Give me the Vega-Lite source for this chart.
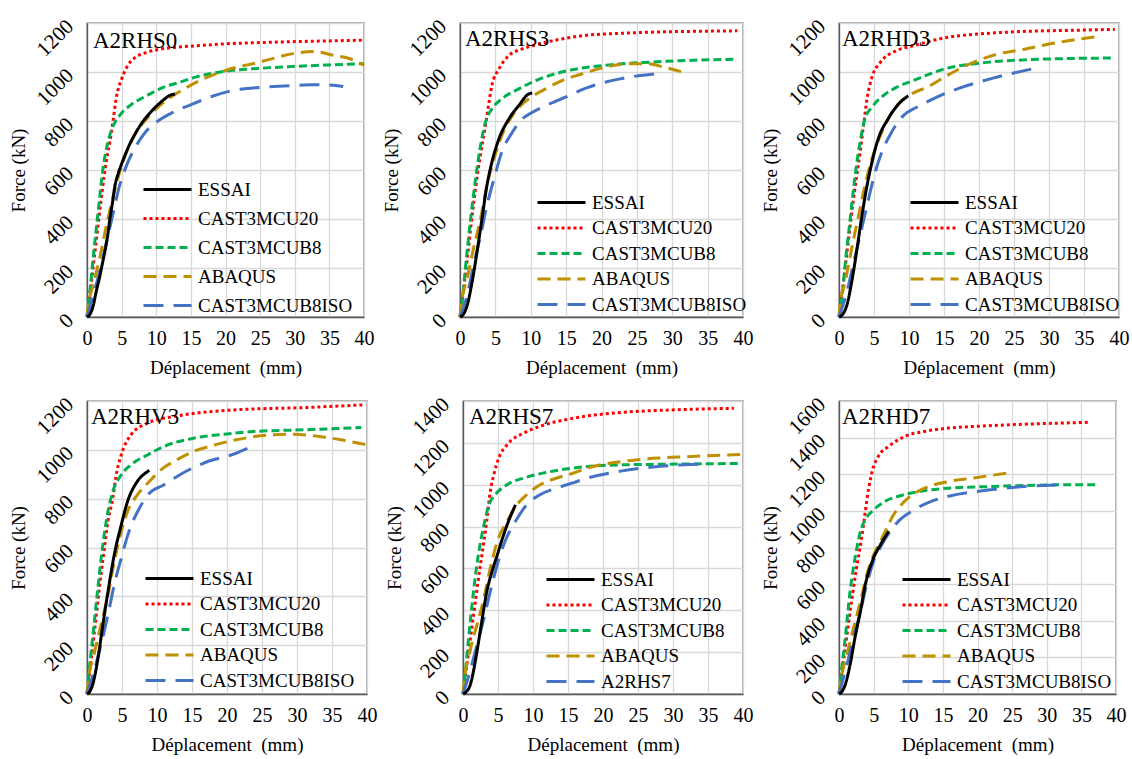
{
"$schema": "https://vega.github.io/schema/vega-lite/v6.json",
"autosize": {"type": "pad"},
"padding": {"left": 8, "top": 14, "right": 5, "bottom": 5},
"background": "white",
"config": {
 "font": "Liberation Serif",
 "view": {"stroke": "#595959", "strokeWidth": 1.3},
 "axis": {"labelFont": "Liberation Serif", "labelFontSize": 20, "labelColor": "#000000", "titleFont": "Liberation Serif", "titleFontSize": 19, "titleFontWeight": "normal", "titleColor": "#000000", "gridColor": "#d9d9d9", "gridWidth": 1.3, "domainColor": "#595959", "domainWidth": 1.3, "tickSize": 0, "labelFlush": false, "labelOverlap": false, "format": "d"},
 "axisX": {"labelPadding": 11, "titlePadding": 10},
 "axisY": {"labelAngle": -45, "labelAlign": "right", "labelBaseline": "middle", "labelPadding": 17, "labelFontSize": 21, "titlePadding": 4},
 "legend": {"orient": "none", "labelFont": "Liberation Serif", "labelFontSize": 19, "labelColor": "#000000", "symbolType": "M-4,0H4", "symbolSize": 144, "symbolStrokeWidth": 3, "symbolOffset": 16, "labelOffset": 21, "rowPadding": 5.5, "padding": 0},
 "title": {"font": "Liberation Serif", "fontSize": 23, "fontWeight": "normal", "color": "#000000", "anchor": "start", "frame": "group", "offset": 0, "baseline": "alphabetic"},
 "line": {"strokeWidth": 3, "interpolate": "monotone"}
},
"data": {"values": [
{"p":"A2RHS0","s":"CAST3MCU20","d":0,"F":0},{"p":"A2RHS0","s":"CAST3MCU20","d":0.5,"F":110},{"p":"A2RHS0","s":"CAST3MCU20","d":1,"F":230},{"p":"A2RHS0","s":"CAST3MCU20","d":1.5,"F":350},{"p":"A2RHS0","s":"CAST3MCU20","d":2,"F":470},{"p":"A2RHS0","s":"CAST3MCU20","d":2.5,"F":580},{"p":"A2RHS0","s":"CAST3MCU20","d":3,"F":670},{"p":"A2RHS0","s":"CAST3MCU20","d":3.3,"F":713},{"p":"A2RHS0","s":"CAST3MCU20","d":3.8,"F":808},{"p":"A2RHS0","s":"CAST3MCU20","d":4.2,"F":890},{"p":"A2RHS0","s":"CAST3MCU20","d":5,"F":971},{"p":"A2RHS0","s":"CAST3MCU20","d":6.2,"F":1039},{"p":"A2RHS0","s":"CAST3MCU20","d":7,"F":1060},{"p":"A2RHS0","s":"CAST3MCU20","d":8.6,"F":1080},{"p":"A2RHS0","s":"CAST3MCU20","d":10,"F":1090},{"p":"A2RHS0","s":"CAST3MCU20","d":12.4,"F":1100},{"p":"A2RHS0","s":"CAST3MCU20","d":15.8,"F":1107},{"p":"A2RHS0","s":"CAST3MCU20","d":20,"F":1115},{"p":"A2RHS0","s":"CAST3MCU20","d":25,"F":1120},{"p":"A2RHS0","s":"CAST3MCU20","d":30,"F":1124},{"p":"A2RHS0","s":"CAST3MCU20","d":35,"F":1127},{"p":"A2RHS0","s":"CAST3MCU20","d":40,"F":1130},
{"p":"A2RHS0","s":"CAST3MCUB8","d":0,"F":0},{"p":"A2RHS0","s":"CAST3MCUB8","d":0.4,"F":100},{"p":"A2RHS0","s":"CAST3MCUB8","d":0.87,"F":237},{"p":"A2RHS0","s":"CAST3MCUB8","d":1.6,"F":427},{"p":"A2RHS0","s":"CAST3MCUB8","d":2.3,"F":604},{"p":"A2RHS0","s":"CAST3MCUB8","d":3,"F":713},{"p":"A2RHS0","s":"CAST3MCUB8","d":3.8,"F":781},{"p":"A2RHS0","s":"CAST3MCUB8","d":4.7,"F":822},{"p":"A2RHS0","s":"CAST3MCUB8","d":6.2,"F":863},{"p":"A2RHS0","s":"CAST3MCUB8","d":8.6,"F":903},{"p":"A2RHS0","s":"CAST3MCUB8","d":11,"F":937},{"p":"A2RHS0","s":"CAST3MCUB8","d":13.4,"F":958},{"p":"A2RHS0","s":"CAST3MCUB8","d":15.8,"F":980},{"p":"A2RHS0","s":"CAST3MCUB8","d":20,"F":1003},{"p":"A2RHS0","s":"CAST3MCUB8","d":25,"F":1015},{"p":"A2RHS0","s":"CAST3MCUB8","d":30,"F":1023},{"p":"A2RHS0","s":"CAST3MCUB8","d":35,"F":1029},{"p":"A2RHS0","s":"CAST3MCUB8","d":40,"F":1034},
{"p":"A2RHS0","s":"ABAQUS","d":0,"F":0},{"p":"A2RHS0","s":"ABAQUS","d":0.15,"F":40},{"p":"A2RHS0","s":"ABAQUS","d":0.87,"F":128},{"p":"A2RHS0","s":"ABAQUS","d":1.8,"F":237},{"p":"A2RHS0","s":"ABAQUS","d":2.8,"F":373},{"p":"A2RHS0","s":"ABAQUS","d":3.8,"F":495},{"p":"A2RHS0","s":"ABAQUS","d":4.7,"F":590},{"p":"A2RHS0","s":"ABAQUS","d":5.7,"F":672},{"p":"A2RHS0","s":"ABAQUS","d":7.1,"F":754},{"p":"A2RHS0","s":"ABAQUS","d":8.6,"F":808},{"p":"A2RHS0","s":"ABAQUS","d":10.5,"F":863},{"p":"A2RHS0","s":"ABAQUS","d":12.4,"F":903},{"p":"A2RHS0","s":"ABAQUS","d":14.4,"F":937},{"p":"A2RHS0","s":"ABAQUS","d":16.3,"F":965},{"p":"A2RHS0","s":"ABAQUS","d":20.1,"F":1007},{"p":"A2RHS0","s":"ABAQUS","d":25,"F":1041},{"p":"A2RHS0","s":"ABAQUS","d":29.8,"F":1075},{"p":"A2RHS0","s":"ABAQUS","d":32.7,"F":1084},{"p":"A2RHS0","s":"ABAQUS","d":35.6,"F":1068},{"p":"A2RHS0","s":"ABAQUS","d":38,"F":1054},{"p":"A2RHS0","s":"ABAQUS","d":40,"F":1027},
{"p":"A2RHS0","s":"CAST3MCUB8ISO","d":0,"F":0},{"p":"A2RHS0","s":"CAST3MCUB8ISO","d":0.87,"F":87},{"p":"A2RHS0","s":"CAST3MCUB8ISO","d":1.8,"F":182},{"p":"A2RHS0","s":"CAST3MCUB8ISO","d":2.8,"F":305},{"p":"A2RHS0","s":"CAST3MCUB8ISO","d":3.8,"F":427},{"p":"A2RHS0","s":"CAST3MCUB8ISO","d":4.7,"F":536},{"p":"A2RHS0","s":"CAST3MCUB8ISO","d":5.7,"F":618},{"p":"A2RHS0","s":"CAST3MCUB8ISO","d":7.1,"F":699},{"p":"A2RHS0","s":"CAST3MCUB8ISO","d":8.6,"F":760},{"p":"A2RHS0","s":"CAST3MCUB8ISO","d":10.5,"F":805},{"p":"A2RHS0","s":"CAST3MCUB8ISO","d":12.4,"F":835},{"p":"A2RHS0","s":"CAST3MCUB8ISO","d":15.3,"F":870},{"p":"A2RHS0","s":"CAST3MCUB8ISO","d":18,"F":900},{"p":"A2RHS0","s":"CAST3MCUB8ISO","d":21.1,"F":925},{"p":"A2RHS0","s":"CAST3MCUB8ISO","d":25.9,"F":939},{"p":"A2RHS0","s":"CAST3MCUB8ISO","d":30.7,"F":946},{"p":"A2RHS0","s":"CAST3MCUB8ISO","d":32.7,"F":948},{"p":"A2RHS0","s":"CAST3MCUB8ISO","d":35.6,"F":946},{"p":"A2RHS0","s":"CAST3MCUB8ISO","d":37,"F":941},
{"p":"A2RHS0","s":"ESSAI","d":0,"F":0},{"p":"A2RHS0","s":"ESSAI","d":0.5,"F":15},{"p":"A2RHS0","s":"ESSAI","d":0.9,"F":46},{"p":"A2RHS0","s":"ESSAI","d":1.3,"F":100},{"p":"A2RHS0","s":"ESSAI","d":1.8,"F":160},{"p":"A2RHS0","s":"ESSAI","d":2.2,"F":215},{"p":"A2RHS0","s":"ESSAI","d":2.6,"F":270},{"p":"A2RHS0","s":"ESSAI","d":3,"F":335},{"p":"A2RHS0","s":"ESSAI","d":3.3,"F":400},{"p":"A2RHS0","s":"ESSAI","d":3.7,"F":470},{"p":"A2RHS0","s":"ESSAI","d":4,"F":530},{"p":"A2RHS0","s":"ESSAI","d":4.5,"F":585},{"p":"A2RHS0","s":"ESSAI","d":5,"F":625},{"p":"A2RHS0","s":"ESSAI","d":6,"F":695},{"p":"A2RHS0","s":"ESSAI","d":7,"F":750},{"p":"A2RHS0","s":"ESSAI","d":8,"F":795},{"p":"A2RHS0","s":"ESSAI","d":9,"F":830},{"p":"A2RHS0","s":"ESSAI","d":10,"F":860},{"p":"A2RHS0","s":"ESSAI","d":11,"F":885},{"p":"A2RHS0","s":"ESSAI","d":12,"F":905},{"p":"A2RHS0","s":"ESSAI","d":12.7,"F":910},

{"p":"A2RHS3","s":"CAST3MCU20","d":0,"F":0},{"p":"A2RHS3","s":"CAST3MCU20","d":0.5,"F":110},{"p":"A2RHS3","s":"CAST3MCU20","d":1,"F":230},{"p":"A2RHS3","s":"CAST3MCU20","d":1.5,"F":360},{"p":"A2RHS3","s":"CAST3MCU20","d":2,"F":480},{"p":"A2RHS3","s":"CAST3MCU20","d":2.5,"F":590},{"p":"A2RHS3","s":"CAST3MCU20","d":3,"F":680},{"p":"A2RHS3","s":"CAST3MCU20","d":3.6,"F":781},{"p":"A2RHS3","s":"CAST3MCU20","d":4.1,"F":876},{"p":"A2RHS3","s":"CAST3MCU20","d":4.5,"F":944},{"p":"A2RHS3","s":"CAST3MCU20","d":5.5,"F":1012},{"p":"A2RHS3","s":"CAST3MCU20","d":6.9,"F":1067},{"p":"A2RHS3","s":"CAST3MCU20","d":8.8,"F":1094},{"p":"A2RHS3","s":"CAST3MCU20","d":11.1,"F":1114},{"p":"A2RHS3","s":"CAST3MCU20","d":14.4,"F":1135},{"p":"A2RHS3","s":"CAST3MCU20","d":17.9,"F":1150},{"p":"A2RHS3","s":"CAST3MCU20","d":22,"F":1157},{"p":"A2RHS3","s":"CAST3MCU20","d":27.4,"F":1163},{"p":"A2RHS3","s":"CAST3MCU20","d":33,"F":1166},{"p":"A2RHS3","s":"CAST3MCU20","d":39.2,"F":1168},
{"p":"A2RHS3","s":"CAST3MCUB8","d":0,"F":0},{"p":"A2RHS3","s":"CAST3MCUB8","d":0.3,"F":60},{"p":"A2RHS3","s":"CAST3MCUB8","d":0.75,"F":196},{"p":"A2RHS3","s":"CAST3MCUB8","d":1.5,"F":400},{"p":"A2RHS3","s":"CAST3MCUB8","d":2.2,"F":563},{"p":"A2RHS3","s":"CAST3MCUB8","d":2.9,"F":699},{"p":"A2RHS3","s":"CAST3MCUB8","d":3.6,"F":795},{"p":"A2RHS3","s":"CAST3MCUB8","d":4.5,"F":849},{"p":"A2RHS3","s":"CAST3MCUB8","d":5.9,"F":890},{"p":"A2RHS3","s":"CAST3MCUB8","d":8.3,"F":931},{"p":"A2RHS3","s":"CAST3MCUB8","d":10.7,"F":965},{"p":"A2RHS3","s":"CAST3MCUB8","d":14.4,"F":1000},{"p":"A2RHS3","s":"CAST3MCUB8","d":20.3,"F":1027},{"p":"A2RHS3","s":"CAST3MCUB8","d":27.4,"F":1041},{"p":"A2RHS3","s":"CAST3MCUB8","d":33,"F":1048},{"p":"A2RHS3","s":"CAST3MCUB8","d":38.7,"F":1052},
{"p":"A2RHS3","s":"ABAQUS","d":0,"F":0},{"p":"A2RHS3","s":"ABAQUS","d":0.14,"F":46},{"p":"A2RHS3","s":"ABAQUS","d":1,"F":155},{"p":"A2RHS3","s":"ABAQUS","d":1.9,"F":278},{"p":"A2RHS3","s":"ABAQUS","d":2.9,"F":400},{"p":"A2RHS3","s":"ABAQUS","d":3.8,"F":536},{"p":"A2RHS3","s":"ABAQUS","d":4.8,"F":645},{"p":"A2RHS3","s":"ABAQUS","d":5.9,"F":740},{"p":"A2RHS3","s":"ABAQUS","d":7.4,"F":822},{"p":"A2RHS3","s":"ABAQUS","d":8.8,"F":869},{"p":"A2RHS3","s":"ABAQUS","d":10.2,"F":900},{"p":"A2RHS3","s":"ABAQUS","d":12.1,"F":931},{"p":"A2RHS3","s":"ABAQUS","d":14.4,"F":965},{"p":"A2RHS3","s":"ABAQUS","d":17,"F":990},{"p":"A2RHS3","s":"ABAQUS","d":20.3,"F":1018},{"p":"A2RHS3","s":"ABAQUS","d":24,"F":1034},{"p":"A2RHS3","s":"ABAQUS","d":26.4,"F":1034},{"p":"A2RHS3","s":"ABAQUS","d":28.8,"F":1020},{"p":"A2RHS3","s":"ABAQUS","d":31.8,"F":997},
{"p":"A2RHS3","s":"CAST3MCUB8ISO","d":0,"F":0},{"p":"A2RHS3","s":"CAST3MCUB8ISO","d":1,"F":87},{"p":"A2RHS3","s":"CAST3MCUB8ISO","d":1.9,"F":210},{"p":"A2RHS3","s":"CAST3MCUB8ISO","d":2.9,"F":332},{"p":"A2RHS3","s":"CAST3MCUB8ISO","d":3.8,"F":454},{"p":"A2RHS3","s":"CAST3MCUB8ISO","d":4.8,"F":563},{"p":"A2RHS3","s":"CAST3MCUB8ISO","d":5.9,"F":672},{"p":"A2RHS3","s":"CAST3MCUB8ISO","d":7.4,"F":754},{"p":"A2RHS3","s":"CAST3MCUB8ISO","d":8.8,"F":808},{"p":"A2RHS3","s":"CAST3MCUB8ISO","d":10.2,"F":835},{"p":"A2RHS3","s":"CAST3MCUB8ISO","d":12.6,"F":869},{"p":"A2RHS3","s":"CAST3MCUB8ISO","d":14.9,"F":897},{"p":"A2RHS3","s":"CAST3MCUB8ISO","d":17.9,"F":935},{"p":"A2RHS3","s":"CAST3MCUB8ISO","d":22.6,"F":972},{"p":"A2RHS3","s":"CAST3MCUB8ISO","d":27.8,"F":993},
{"p":"A2RHS3","s":"ESSAI","d":0,"F":0},{"p":"A2RHS3","s":"ESSAI","d":0.5,"F":12},{"p":"A2RHS3","s":"ESSAI","d":1,"F":46},{"p":"A2RHS3","s":"ESSAI","d":1.7,"F":141},{"p":"A2RHS3","s":"ESSAI","d":2.4,"F":264},{"p":"A2RHS3","s":"ESSAI","d":3.1,"F":400},{"p":"A2RHS3","s":"ESSAI","d":3.8,"F":536},{"p":"A2RHS3","s":"ESSAI","d":4.5,"F":631},{"p":"A2RHS3","s":"ESSAI","d":5.5,"F":727},{"p":"A2RHS3","s":"ESSAI","d":6.9,"F":808},{"p":"A2RHS3","s":"ESSAI","d":8.3,"F":863},{"p":"A2RHS3","s":"ESSAI","d":9.7,"F":910},{"p":"A2RHS3","s":"ESSAI","d":10.2,"F":914},

{"p":"A2RHD3","s":"CAST3MCU20","d":0,"F":0},{"p":"A2RHD3","s":"CAST3MCU20","d":0.5,"F":110},{"p":"A2RHD3","s":"CAST3MCU20","d":1,"F":230},{"p":"A2RHD3","s":"CAST3MCU20","d":1.5,"F":350},{"p":"A2RHD3","s":"CAST3MCU20","d":2,"F":465},{"p":"A2RHD3","s":"CAST3MCU20","d":2.5,"F":570},{"p":"A2RHD3","s":"CAST3MCU20","d":3,"F":670},{"p":"A2RHD3","s":"CAST3MCU20","d":3.5,"F":781},{"p":"A2RHD3","s":"CAST3MCU20","d":4,"F":890},{"p":"A2RHD3","s":"CAST3MCU20","d":4.7,"F":978},{"p":"A2RHD3","s":"CAST3MCU20","d":5.9,"F":1039},{"p":"A2RHD3","s":"CAST3MCU20","d":8.2,"F":1087},{"p":"A2RHD3","s":"CAST3MCU20","d":10.6,"F":1107},{"p":"A2RHD3","s":"CAST3MCU20","d":15.4,"F":1141},{"p":"A2RHD3","s":"CAST3MCU20","d":20,"F":1155},{"p":"A2RHD3","s":"CAST3MCU20","d":26.8,"F":1166},{"p":"A2RHD3","s":"CAST3MCU20","d":33,"F":1170},{"p":"A2RHD3","s":"CAST3MCU20","d":39.4,"F":1174},
{"p":"A2RHD3","s":"CAST3MCUB8","d":0,"F":0},{"p":"A2RHD3","s":"CAST3MCUB8","d":0.4,"F":73},{"p":"A2RHD3","s":"CAST3MCUB8","d":0.86,"F":210},{"p":"A2RHD3","s":"CAST3MCUB8","d":1.6,"F":400},{"p":"A2RHD3","s":"CAST3MCUB8","d":2.3,"F":577},{"p":"A2RHD3","s":"CAST3MCUB8","d":3,"F":713},{"p":"A2RHD3","s":"CAST3MCUB8","d":3.7,"F":808},{"p":"A2RHD3","s":"CAST3MCUB8","d":4.7,"F":856},{"p":"A2RHD3","s":"CAST3MCUB8","d":6.3,"F":903},{"p":"A2RHD3","s":"CAST3MCUB8","d":8.2,"F":937},{"p":"A2RHD3","s":"CAST3MCUB8","d":10.6,"F":965},{"p":"A2RHD3","s":"CAST3MCUB8","d":15.4,"F":1015},{"p":"A2RHD3","s":"CAST3MCUB8","d":19.7,"F":1035},{"p":"A2RHD3","s":"CAST3MCUB8","d":26.8,"F":1050},{"p":"A2RHD3","s":"CAST3MCUB8","d":33,"F":1055},{"p":"A2RHD3","s":"CAST3MCUB8","d":39,"F":1057},
{"p":"A2RHD3","s":"ABAQUS","d":0,"F":0},{"p":"A2RHD3","s":"ABAQUS","d":0.1,"F":40},{"p":"A2RHD3","s":"ABAQUS","d":0.86,"F":141},{"p":"A2RHD3","s":"ABAQUS","d":1.8,"F":278},{"p":"A2RHD3","s":"ABAQUS","d":2.8,"F":414},{"p":"A2RHD3","s":"ABAQUS","d":3.7,"F":536},{"p":"A2RHD3","s":"ABAQUS","d":4.7,"F":645},{"p":"A2RHD3","s":"ABAQUS","d":5.9,"F":740},{"p":"A2RHD3","s":"ABAQUS","d":7.3,"F":822},{"p":"A2RHD3","s":"ABAQUS","d":8.7,"F":876},{"p":"A2RHD3","s":"ABAQUS","d":10.1,"F":906},{"p":"A2RHD3","s":"ABAQUS","d":13,"F":944},{"p":"A2RHD3","s":"ABAQUS","d":15.4,"F":985},{"p":"A2RHD3","s":"ABAQUS","d":17.3,"F":1014},{"p":"A2RHD3","s":"ABAQUS","d":22,"F":1068},{"p":"A2RHD3","s":"ABAQUS","d":26.8,"F":1095},{"p":"A2RHD3","s":"ABAQUS","d":31.6,"F":1122},{"p":"A2RHD3","s":"ABAQUS","d":36.6,"F":1143},
{"p":"A2RHD3","s":"CAST3MCUB8ISO","d":0,"F":0},{"p":"A2RHD3","s":"CAST3MCUB8ISO","d":1.1,"F":100},{"p":"A2RHD3","s":"CAST3MCUB8ISO","d":2,"F":210},{"p":"A2RHD3","s":"CAST3MCUB8ISO","d":3,"F":332},{"p":"A2RHD3","s":"CAST3MCUB8ISO","d":4,"F":454},{"p":"A2RHD3","s":"CAST3MCUB8ISO","d":4.9,"F":563},{"p":"A2RHD3","s":"CAST3MCUB8ISO","d":6.1,"F":672},{"p":"A2RHD3","s":"CAST3MCUB8ISO","d":7.5,"F":754},{"p":"A2RHD3","s":"CAST3MCUB8ISO","d":9.2,"F":822},{"p":"A2RHD3","s":"CAST3MCUB8ISO","d":11.1,"F":856},{"p":"A2RHD3","s":"CAST3MCUB8ISO","d":13,"F":884},{"p":"A2RHD3","s":"CAST3MCUB8ISO","d":15.4,"F":915},{"p":"A2RHD3","s":"CAST3MCUB8ISO","d":17.3,"F":935},{"p":"A2RHD3","s":"CAST3MCUB8ISO","d":22,"F":975},{"p":"A2RHD3","s":"CAST3MCUB8ISO","d":27.5,"F":1012},
{"p":"A2RHD3","s":"ESSAI","d":0,"F":0},{"p":"A2RHD3","s":"ESSAI","d":0.5,"F":10},{"p":"A2RHD3","s":"ESSAI","d":1.1,"F":46},{"p":"A2RHD3","s":"ESSAI","d":1.8,"F":141},{"p":"A2RHD3","s":"ESSAI","d":2.5,"F":264},{"p":"A2RHD3","s":"ESSAI","d":3.2,"F":400},{"p":"A2RHD3","s":"ESSAI","d":4,"F":536},{"p":"A2RHD3","s":"ESSAI","d":4.7,"F":631},{"p":"A2RHD3","s":"ESSAI","d":5.6,"F":727},{"p":"A2RHD3","s":"ESSAI","d":7,"F":808},{"p":"A2RHD3","s":"ESSAI","d":8.5,"F":869},{"p":"A2RHD3","s":"ESSAI","d":9.9,"F":903},

{"p":"A2RHV3","s":"CAST3MCU20","d":0,"F":0},{"p":"A2RHV3","s":"CAST3MCU20","d":0.5,"F":120},{"p":"A2RHV3","s":"CAST3MCU20","d":1,"F":240},{"p":"A2RHV3","s":"CAST3MCU20","d":1.5,"F":365},{"p":"A2RHV3","s":"CAST3MCU20","d":2,"F":490},{"p":"A2RHV3","s":"CAST3MCU20","d":2.5,"F":600},{"p":"A2RHV3","s":"CAST3MCU20","d":3,"F":710},{"p":"A2RHV3","s":"CAST3MCU20","d":3.7,"F":803},{"p":"A2RHV3","s":"CAST3MCU20","d":4.1,"F":885},{"p":"A2RHV3","s":"CAST3MCU20","d":4.9,"F":980},{"p":"A2RHV3","s":"CAST3MCU20","d":6.3,"F":1062},{"p":"A2RHV3","s":"CAST3MCU20","d":8.7,"F":1110},{"p":"A2RHV3","s":"CAST3MCU20","d":12.5,"F":1137},{"p":"A2RHV3","s":"CAST3MCU20","d":15.8,"F":1151},{"p":"A2RHV3","s":"CAST3MCU20","d":21.3,"F":1164},{"p":"A2RHV3","s":"CAST3MCU20","d":30.9,"F":1173},{"p":"A2RHV3","s":"CAST3MCU20","d":39.4,"F":1184},
{"p":"A2RHV3","s":"CAST3MCUB8","d":0,"F":0},{"p":"A2RHV3","s":"CAST3MCUB8","d":0.3,"F":93},{"p":"A2RHV3","s":"CAST3MCUB8","d":0.8,"F":229},{"p":"A2RHV3","s":"CAST3MCUB8","d":1.5,"F":420},{"p":"A2RHV3","s":"CAST3MCUB8","d":2.2,"F":598},{"p":"A2RHV3","s":"CAST3MCUB8","d":3,"F":748},{"p":"A2RHV3","s":"CAST3MCUB8","d":3.7,"F":830},{"p":"A2RHV3","s":"CAST3MCUB8","d":4.9,"F":898},{"p":"A2RHV3","s":"CAST3MCUB8","d":6.3,"F":939},{"p":"A2RHV3","s":"CAST3MCUB8","d":8.7,"F":980},{"p":"A2RHV3","s":"CAST3MCUB8","d":11,"F":1014},{"p":"A2RHV3","s":"CAST3MCUB8","d":15.3,"F":1048},{"p":"A2RHV3","s":"CAST3MCUB8","d":20,"F":1065},{"p":"A2RHV3","s":"CAST3MCUB8","d":23.7,"F":1075},{"p":"A2RHV3","s":"CAST3MCUB8","d":30.9,"F":1082},{"p":"A2RHV3","s":"CAST3MCUB8","d":39.2,"F":1091},
{"p":"A2RHV3","s":"ABAQUS","d":0,"F":0},{"p":"A2RHV3","s":"ABAQUS","d":0.2,"F":60},{"p":"A2RHV3","s":"ABAQUS","d":1,"F":161},{"p":"A2RHV3","s":"ABAQUS","d":2,"F":284},{"p":"A2RHV3","s":"ABAQUS","d":3,"F":407},{"p":"A2RHV3","s":"ABAQUS","d":3.9,"F":543},{"p":"A2RHV3","s":"ABAQUS","d":4.9,"F":666},{"p":"A2RHV3","s":"ABAQUS","d":5.8,"F":748},{"p":"A2RHV3","s":"ABAQUS","d":7.2,"F":816},{"p":"A2RHV3","s":"ABAQUS","d":8.7,"F":864},{"p":"A2RHV3","s":"ABAQUS","d":10.6,"F":919},{"p":"A2RHV3","s":"ABAQUS","d":12.9,"F":960},{"p":"A2RHV3","s":"ABAQUS","d":15.3,"F":994},{"p":"A2RHV3","s":"ABAQUS","d":18,"F":1018},{"p":"A2RHV3","s":"ABAQUS","d":21.3,"F":1041},{"p":"A2RHV3","s":"ABAQUS","d":26.1,"F":1061},{"p":"A2RHV3","s":"ABAQUS","d":29.4,"F":1064},{"p":"A2RHV3","s":"ABAQUS","d":33.2,"F":1055},{"p":"A2RHV3","s":"ABAQUS","d":36.5,"F":1040},{"p":"A2RHV3","s":"ABAQUS","d":40,"F":1020},
{"p":"A2RHV3","s":"CAST3MCUB8ISO","d":0,"F":0},{"p":"A2RHV3","s":"CAST3MCUB8ISO","d":1,"F":93},{"p":"A2RHV3","s":"CAST3MCUB8ISO","d":2,"F":202},{"p":"A2RHV3","s":"CAST3MCUB8ISO","d":3,"F":325},{"p":"A2RHV3","s":"CAST3MCUB8ISO","d":3.9,"F":448},{"p":"A2RHV3","s":"CAST3MCUB8ISO","d":4.9,"F":557},{"p":"A2RHV3","s":"CAST3MCUB8ISO","d":6,"F":666},{"p":"A2RHV3","s":"CAST3MCUB8ISO","d":7.5,"F":762},{"p":"A2RHV3","s":"CAST3MCUB8ISO","d":8.7,"F":816},{"p":"A2RHV3","s":"CAST3MCUB8ISO","d":11,"F":857},{"p":"A2RHV3","s":"CAST3MCUB8ISO","d":13.4,"F":900},{"p":"A2RHV3","s":"CAST3MCUB8ISO","d":16.6,"F":945},{"p":"A2RHV3","s":"CAST3MCUB8ISO","d":21.3,"F":986},{"p":"A2RHV3","s":"CAST3MCUB8ISO","d":23,"F":1007},
{"p":"A2RHV3","s":"ESSAI","d":0,"F":0},{"p":"A2RHV3","s":"ESSAI","d":0.4,"F":10},{"p":"A2RHV3","s":"ESSAI","d":0.8,"F":38},{"p":"A2RHV3","s":"ESSAI","d":1.5,"F":134},{"p":"A2RHV3","s":"ESSAI","d":2.2,"F":270},{"p":"A2RHV3","s":"ESSAI","d":3,"F":420},{"p":"A2RHV3","s":"ESSAI","d":3.9,"F":571},{"p":"A2RHV3","s":"ESSAI","d":4.9,"F":693},{"p":"A2RHV3","s":"ESSAI","d":5.8,"F":789},{"p":"A2RHV3","s":"ESSAI","d":7.2,"F":871},{"p":"A2RHV3","s":"ESSAI","d":8.7,"F":912},{"p":"A2RHV3","s":"ESSAI","d":8.9,"F":916},

{"p":"A2RHS7","s":"CAST3MCU20","d":0,"F":0},{"p":"A2RHS7","s":"CAST3MCU20","d":0.5,"F":125},{"p":"A2RHS7","s":"CAST3MCU20","d":1,"F":250},{"p":"A2RHS7","s":"CAST3MCU20","d":1.5,"F":375},{"p":"A2RHS7","s":"CAST3MCU20","d":2,"F":500},{"p":"A2RHS7","s":"CAST3MCU20","d":2.5,"F":620},{"p":"A2RHS7","s":"CAST3MCU20","d":3,"F":730},{"p":"A2RHS7","s":"CAST3MCU20","d":3.4,"F":830},{"p":"A2RHS7","s":"CAST3MCU20","d":3.9,"F":968},{"p":"A2RHS7","s":"CAST3MCU20","d":4.4,"F":1048},{"p":"A2RHS7","s":"CAST3MCU20","d":5.1,"F":1127},{"p":"A2RHS7","s":"CAST3MCU20","d":6.3,"F":1191},{"p":"A2RHS7","s":"CAST3MCU20","d":8.7,"F":1247},{"p":"A2RHS7","s":"CAST3MCU20","d":11,"F":1279},{"p":"A2RHS7","s":"CAST3MCU20","d":15.8,"F":1318},{"p":"A2RHS7","s":"CAST3MCU20","d":22.5,"F":1345},{"p":"A2RHS7","s":"CAST3MCU20","d":29.6,"F":1357},{"p":"A2RHS7","s":"CAST3MCU20","d":38.7,"F":1365},
{"p":"A2RHS7","s":"CAST3MCUB8","d":0,"F":0},{"p":"A2RHS7","s":"CAST3MCUB8","d":0.3,"F":92},{"p":"A2RHS7","s":"CAST3MCUB8","d":0.8,"F":267},{"p":"A2RHS7","s":"CAST3MCUB8","d":1.5,"F":490},{"p":"A2RHS7","s":"CAST3MCUB8","d":2.2,"F":666},{"p":"A2RHS7","s":"CAST3MCUB8","d":3,"F":809},{"p":"A2RHS7","s":"CAST3MCUB8","d":3.7,"F":904},{"p":"A2RHS7","s":"CAST3MCUB8","d":4.6,"F":952},{"p":"A2RHS7","s":"CAST3MCUB8","d":6.3,"F":1000},{"p":"A2RHS7","s":"CAST3MCUB8","d":8.7,"F":1032},{"p":"A2RHS7","s":"CAST3MCUB8","d":11.5,"F":1056},{"p":"A2RHS7","s":"CAST3MCUB8","d":15.8,"F":1080},{"p":"A2RHS7","s":"CAST3MCUB8","d":22.5,"F":1095},{"p":"A2RHS7","s":"CAST3MCUB8","d":29.6,"F":1098},{"p":"A2RHS7","s":"CAST3MCUB8","d":39.6,"F":1102},
{"p":"A2RHS7","s":"ABAQUS","d":0,"F":0},{"p":"A2RHS7","s":"ABAQUS","d":0.2,"F":70},{"p":"A2RHS7","s":"ABAQUS","d":1,"F":204},{"p":"A2RHS7","s":"ABAQUS","d":2,"F":331},{"p":"A2RHS7","s":"ABAQUS","d":3,"F":459},{"p":"A2RHS7","s":"ABAQUS","d":3.9,"F":602},{"p":"A2RHS7","s":"ABAQUS","d":4.9,"F":729},{"p":"A2RHS7","s":"ABAQUS","d":6.3,"F":825},{"p":"A2RHS7","s":"ABAQUS","d":7.7,"F":904},{"p":"A2RHS7","s":"ABAQUS","d":9.1,"F":952},{"p":"A2RHS7","s":"ABAQUS","d":11,"F":1000},{"p":"A2RHS7","s":"ABAQUS","d":13.4,"F":1032},{"p":"A2RHS7","s":"ABAQUS","d":15.8,"F":1056},{"p":"A2RHS7","s":"ABAQUS","d":17.7,"F":1079},{"p":"A2RHS7","s":"ABAQUS","d":22.5,"F":1110},{"p":"A2RHS7","s":"ABAQUS","d":27.2,"F":1126},{"p":"A2RHS7","s":"ABAQUS","d":32,"F":1134},{"p":"A2RHS7","s":"ABAQUS","d":40,"F":1145},
{"p":"A2RHS7","s":"A2RHS7","d":0,"F":0},{"p":"A2RHS7","s":"A2RHS7","d":1,"F":108},{"p":"A2RHS7","s":"A2RHS7","d":2,"F":236},{"p":"A2RHS7","s":"A2RHS7","d":3,"F":363},{"p":"A2RHS7","s":"A2RHS7","d":3.9,"F":490},{"p":"A2RHS7","s":"A2RHS7","d":4.9,"F":618},{"p":"A2RHS7","s":"A2RHS7","d":6,"F":729},{"p":"A2RHS7","s":"A2RHS7","d":7.5,"F":825},{"p":"A2RHS7","s":"A2RHS7","d":9.1,"F":904},{"p":"A2RHS7","s":"A2RHS7","d":11,"F":952},{"p":"A2RHS7","s":"A2RHS7","d":13.4,"F":984},{"p":"A2RHS7","s":"A2RHS7","d":15.8,"F":1010},{"p":"A2RHS7","s":"A2RHS7","d":17.7,"F":1031},{"p":"A2RHS7","s":"A2RHS7","d":22.5,"F":1065},{"p":"A2RHS7","s":"A2RHS7","d":27.2,"F":1085},{"p":"A2RHS7","s":"A2RHS7","d":33.7,"F":1098},
{"p":"A2RHS7","s":"ESSAI","d":0,"F":0},{"p":"A2RHS7","s":"ESSAI","d":0.5,"F":12},{"p":"A2RHS7","s":"ESSAI","d":1,"F":40},{"p":"A2RHS7","s":"ESSAI","d":1.5,"F":110},{"p":"A2RHS7","s":"ESSAI","d":2,"F":204},{"p":"A2RHS7","s":"ESSAI","d":2.7,"F":350},{"p":"A2RHS7","s":"ESSAI","d":3.4,"F":490},{"p":"A2RHS7","s":"ESSAI","d":4.1,"F":580},{"p":"A2RHS7","s":"ESSAI","d":4.9,"F":665},{"p":"A2RHS7","s":"ESSAI","d":5.6,"F":740},{"p":"A2RHS7","s":"ESSAI","d":6.3,"F":808},{"p":"A2RHS7","s":"ESSAI","d":7.5,"F":904},

{"p":"A2RHD7","s":"CAST3MCU20","d":0,"F":0},{"p":"A2RHD7","s":"CAST3MCU20","d":0.5,"F":140},{"p":"A2RHD7","s":"CAST3MCU20","d":1,"F":280},{"p":"A2RHD7","s":"CAST3MCU20","d":1.5,"F":420},{"p":"A2RHD7","s":"CAST3MCU20","d":2,"F":555},{"p":"A2RHD7","s":"CAST3MCU20","d":2.5,"F":680},{"p":"A2RHD7","s":"CAST3MCU20","d":3,"F":790},{"p":"A2RHD7","s":"CAST3MCU20","d":3.3,"F":860},{"p":"A2RHD7","s":"CAST3MCU20","d":3.8,"F":998},{"p":"A2RHD7","s":"CAST3MCU20","d":4.3,"F":1126},{"p":"A2RHD7","s":"CAST3MCU20","d":4.8,"F":1217},{"p":"A2RHD7","s":"CAST3MCU20","d":5.7,"F":1299},{"p":"A2RHD7","s":"CAST3MCU20","d":7.2,"F":1353},{"p":"A2RHD7","s":"CAST3MCU20","d":9.6,"F":1408},{"p":"A2RHD7","s":"CAST3MCU20","d":12.5,"F":1435},{"p":"A2RHD7","s":"CAST3MCU20","d":15.8,"F":1452},{"p":"A2RHD7","s":"CAST3MCU20","d":20,"F":1462},{"p":"A2RHD7","s":"CAST3MCU20","d":26.7,"F":1473},{"p":"A2RHD7","s":"CAST3MCU20","d":36.3,"F":1484},
{"p":"A2RHD7","s":"CAST3MCUB8","d":0,"F":0},{"p":"A2RHD7","s":"CAST3MCUB8","d":0.35,"F":124},{"p":"A2RHD7","s":"CAST3MCUB8","d":0.9,"F":306},{"p":"A2RHD7","s":"CAST3MCUB8","d":1.6,"F":561},{"p":"A2RHD7","s":"CAST3MCUB8","d":2.4,"F":761},{"p":"A2RHD7","s":"CAST3MCUB8","d":3.1,"F":889},{"p":"A2RHD7","s":"CAST3MCUB8","d":3.8,"F":953},{"p":"A2RHD7","s":"CAST3MCUB8","d":4.8,"F":998},{"p":"A2RHD7","s":"CAST3MCUB8","d":6.7,"F":1053},{"p":"A2RHD7","s":"CAST3MCUB8","d":8.6,"F":1080},{"p":"A2RHD7","s":"CAST3MCUB8","d":11.5,"F":1105},{"p":"A2RHD7","s":"CAST3MCUB8","d":15.8,"F":1124},{"p":"A2RHD7","s":"CAST3MCUB8","d":21.9,"F":1133},{"p":"A2RHD7","s":"CAST3MCUB8","d":31.5,"F":1142},{"p":"A2RHD7","s":"CAST3MCUB8","d":37.5,"F":1143},
{"p":"A2RHD7","s":"ABAQUS","d":0,"F":0},{"p":"A2RHD7","s":"ABAQUS","d":0.2,"F":60},{"p":"A2RHD7","s":"ABAQUS","d":1.15,"F":215},{"p":"A2RHD7","s":"ABAQUS","d":2.1,"F":361},{"p":"A2RHD7","s":"ABAQUS","d":3.1,"F":506},{"p":"A2RHD7","s":"ABAQUS","d":4,"F":650},{"p":"A2RHD7","s":"ABAQUS","d":5,"F":760},{"p":"A2RHD7","s":"ABAQUS","d":6.2,"F":850},{"p":"A2RHD7","s":"ABAQUS","d":7.2,"F":930},{"p":"A2RHD7","s":"ABAQUS","d":7.9,"F":980},{"p":"A2RHD7","s":"ABAQUS","d":8.6,"F":1016},{"p":"A2RHD7","s":"ABAQUS","d":10,"F":1071},{"p":"A2RHD7","s":"ABAQUS","d":12.5,"F":1126},{"p":"A2RHD7","s":"ABAQUS","d":15.8,"F":1160},{"p":"A2RHD7","s":"ABAQUS","d":19.5,"F":1180},{"p":"A2RHD7","s":"ABAQUS","d":24.8,"F":1209},
{"p":"A2RHD7","s":"CAST3MCUB8ISO","d":0,"F":0},{"p":"A2RHD7","s":"CAST3MCUB8ISO","d":1.15,"F":160},{"p":"A2RHD7","s":"CAST3MCUB8ISO","d":2.1,"F":306},{"p":"A2RHD7","s":"CAST3MCUB8ISO","d":3.1,"F":452},{"p":"A2RHD7","s":"CAST3MCUB8ISO","d":4,"F":597},{"p":"A2RHD7","s":"CAST3MCUB8ISO","d":5,"F":725},{"p":"A2RHD7","s":"CAST3MCUB8ISO","d":6.2,"F":816},{"p":"A2RHD7","s":"CAST3MCUB8ISO","d":7.4,"F":889},{"p":"A2RHD7","s":"CAST3MCUB8ISO","d":8.6,"F":944},{"p":"A2RHD7","s":"CAST3MCUB8ISO","d":10.5,"F":998},{"p":"A2RHD7","s":"CAST3MCUB8ISO","d":13.4,"F":1053},{"p":"A2RHD7","s":"CAST3MCUB8ISO","d":15.8,"F":1080},{"p":"A2RHD7","s":"CAST3MCUB8ISO","d":21.9,"F":1115},{"p":"A2RHD7","s":"CAST3MCUB8ISO","d":26.7,"F":1133},{"p":"A2RHD7","s":"CAST3MCUB8ISO","d":31.5,"F":1142},
{"p":"A2RHD7","s":"ESSAI","d":0,"F":0},{"p":"A2RHD7","s":"ESSAI","d":0.4,"F":12},{"p":"A2RHD7","s":"ESSAI","d":0.9,"F":51},{"p":"A2RHD7","s":"ESSAI","d":1.6,"F":160},{"p":"A2RHD7","s":"ESSAI","d":2.3,"F":306},{"p":"A2RHD7","s":"ESSAI","d":3.1,"F":452},{"p":"A2RHD7","s":"ESSAI","d":3.8,"F":597},{"p":"A2RHD7","s":"ESSAI","d":4.8,"F":725},{"p":"A2RHD7","s":"ESSAI","d":6,"F":816},{"p":"A2RHD7","s":"ESSAI","d":7.2,"F":889}
]},
"spacing": 14,
"resolve": {"scale": {"color": "independent", "strokeDash": "independent", "x": "independent", "y": "independent"}, "legend": {"color": "independent", "strokeDash": "independent"}},
"vconcat": [
{"hconcat": [
 {"width": 277, "height": 294, "title": {"text": "A2RHS0", "dx": 6, "dy": 42},
  "transform": [{"filter": "datum.p === 'A2RHS0'"}],
  "mark": {"type": "line"},
  "encoding": {
   "x": {"field": "d", "type": "quantitative", "scale": {"domain": [0, 40], "nice": false}, "axis": {"values": [0,5,10,15,20,25,30,35,40], "title": "Déplacement\u00a0 (mm)"}},
   "y": {"field": "F", "type": "quantitative", "scale": {"domain": [0, 1200], "nice": false}, "axis": {"values": [0,200,400,600,800,1000,1200], "title": "Force (kN)"}},
   "color": {"field": "s", "type": "nominal", "scale": {"domain": ["ESSAI","CAST3MCU20","CAST3MCUB8","ABAQUS","CAST3MCUB8ISO"], "range": ["#000000","#FF0000","#00B050","#BF9000","#4472C4"]}, "legend": {"title": null, "legendX": 55, "legendY": 157, "rowPadding": 9}},
   "strokeDash": {"field": "s", "type": "nominal", "scale": {"domain": ["ESSAI","CAST3MCU20","CAST3MCUB8","ABAQUS","CAST3MCUB8ISO"], "range": [[1,0],[3,3],[8,4],[13,7],[20,10]]}, "legend": {"title": null, "legendX": 55, "legendY": 157, "rowPadding": 9}}
  }},
 {"width": 283, "height": 294, "title": {"text": "A2RHS3", "dx": 5, "dy": 40},
  "transform": [{"filter": "datum.p === 'A2RHS3'"}],
  "mark": {"type": "line"},
  "encoding": {
   "x": {"field": "d", "type": "quantitative", "scale": {"domain": [0, 40], "nice": false}, "axis": {"values": [0,5,10,15,20,25,30,35,40], "title": "Déplacement\u00a0 (mm)"}},
   "y": {"field": "F", "type": "quantitative", "scale": {"domain": [0, 1200], "nice": false}, "axis": {"values": [0,200,400,600,800,1000,1200], "title": "Force (kN)"}},
   "color": {"field": "s", "type": "nominal", "scale": {"domain": ["ESSAI","CAST3MCU20","CAST3MCUB8","ABAQUS","CAST3MCUB8ISO"], "range": ["#000000","#FF0000","#00B050","#BF9000","#4472C4"]}, "legend": {"title": null, "legendX": 76, "legendY": 170}},
   "strokeDash": {"field": "s", "type": "nominal", "scale": {"domain": ["ESSAI","CAST3MCU20","CAST3MCUB8","ABAQUS","CAST3MCUB8ISO"], "range": [[1,0],[3,3],[8,4],[13,7],[20,10]]}, "legend": {"title": null, "legendX": 76, "legendY": 170}}
  }},
 {"width": 280, "height": 294, "title": {"text": "A2RHD3", "dx": 3, "dy": 40},
  "transform": [{"filter": "datum.p === 'A2RHD3'"}],
  "mark": {"type": "line"},
  "encoding": {
   "x": {"field": "d", "type": "quantitative", "scale": {"domain": [0, 40], "nice": false}, "axis": {"values": [0,5,10,15,20,25,30,35,40], "title": "Déplacement\u00a0 (mm)"}},
   "y": {"field": "F", "type": "quantitative", "scale": {"domain": [0, 1200], "nice": false}, "axis": {"values": [0,200,400,600,800,1000,1200], "title": "Force (kN)"}},
   "color": {"field": "s", "type": "nominal", "scale": {"domain": ["ESSAI","CAST3MCU20","CAST3MCUB8","ABAQUS","CAST3MCUB8ISO"], "range": ["#000000","#FF0000","#00B050","#BF9000","#4472C4"]}, "legend": {"title": null, "legendX": 70, "legendY": 170}},
   "strokeDash": {"field": "s", "type": "nominal", "scale": {"domain": ["ESSAI","CAST3MCU20","CAST3MCUB8","ABAQUS","CAST3MCUB8ISO"], "range": [[1,0],[3,3],[8,4],[13,7],[20,10]]}, "legend": {"title": null, "legendX": 70, "legendY": 170}}
  }}
 ], "spacing": 96, "bounds": "flush",
 "resolve": {"scale": {"color": "independent", "strokeDash": "independent", "x": "independent", "y": "independent"}, "legend": {"color": "independent", "strokeDash": "independent"}}},
{"hconcat": [
 {"width": 280, "height": 293, "title": {"text": "A2RHV3", "dx": 4, "dy": 40},
  "transform": [{"filter": "datum.p === 'A2RHV3'"}],
  "mark": {"type": "line"},
  "encoding": {
   "x": {"field": "d", "type": "quantitative", "scale": {"domain": [0, 40], "nice": false}, "axis": {"values": [0,5,10,15,20,25,30,35,40], "title": "Déplacement\u00a0 (mm)"}},
   "y": {"field": "F", "type": "quantitative", "scale": {"domain": [0, 1200], "nice": false}, "axis": {"values": [0,200,400,600,800,1000,1200], "title": "Force (kN)"}},
   "color": {"field": "s", "type": "nominal", "scale": {"domain": ["ESSAI","CAST3MCU20","CAST3MCUB8","ABAQUS","CAST3MCUB8ISO"], "range": ["#000000","#FF0000","#00B050","#BF9000","#4472C4"]}, "legend": {"title": null, "legendX": 57, "legendY": 168}},
   "strokeDash": {"field": "s", "type": "nominal", "scale": {"domain": ["ESSAI","CAST3MCU20","CAST3MCUB8","ABAQUS","CAST3MCUB8ISO"], "range": [[1,0],[3,3],[8,4],[13,7],[20,10]]}, "legend": {"title": null, "legendX": 57, "legendY": 168}}
  }},
 {"width": 280, "height": 293, "title": {"text": "A2RHS7", "dx": 6, "dy": 40},
  "transform": [{"filter": "datum.p === 'A2RHS7'"}],
  "mark": {"type": "line"},
  "encoding": {
   "x": {"field": "d", "type": "quantitative", "scale": {"domain": [0, 40], "nice": false}, "axis": {"values": [0,5,10,15,20,25,30,35,40], "title": "Déplacement\u00a0 (mm)"}},
   "y": {"field": "F", "type": "quantitative", "scale": {"domain": [0, 1400], "nice": false}, "axis": {"values": [0,200,400,600,800,1000,1200,1400], "title": "Force (kN)"}},
   "color": {"field": "s", "type": "nominal", "scale": {"domain": ["ESSAI","CAST3MCU20","CAST3MCUB8","ABAQUS","A2RHS7"], "range": ["#000000","#FF0000","#00B050","#BF9000","#4472C4"]}, "legend": {"title": null, "legendX": 82, "legendY": 169}},
   "strokeDash": {"field": "s", "type": "nominal", "scale": {"domain": ["ESSAI","CAST3MCU20","CAST3MCUB8","ABAQUS","A2RHS7"], "range": [[1,0],[3,3],[8,4],[13,7],[20,10]]}, "legend": {"title": null, "legendX": 82, "legendY": 169}}
  }},
 {"width": 277, "height": 293, "title": {"text": "A2RHD7", "dx": 3, "dy": 40},
  "transform": [{"filter": "datum.p === 'A2RHD7'"}],
  "mark": {"type": "line"},
  "encoding": {
   "x": {"field": "d", "type": "quantitative", "scale": {"domain": [0, 40], "nice": false}, "axis": {"values": [0,5,10,15,20,25,30,35,40], "title": "Déplacement\u00a0 (mm)"}},
   "y": {"field": "F", "type": "quantitative", "scale": {"domain": [0, 1600], "nice": false}, "axis": {"values": [0,200,400,600,800,1000,1200,1400,1600], "title": "Force (kN)"}},
   "color": {"field": "s", "type": "nominal", "scale": {"domain": ["ESSAI","CAST3MCU20","CAST3MCUB8","ABAQUS","CAST3MCUB8ISO"], "range": ["#000000","#FF0000","#00B050","#BF9000","#4472C4"]}, "legend": {"title": null, "legendX": 62, "legendY": 169}},
   "strokeDash": {"field": "s", "type": "nominal", "scale": {"domain": ["ESSAI","CAST3MCU20","CAST3MCUB8","ABAQUS","CAST3MCUB8ISO"], "range": [[1,0],[3,3],[8,4],[13,7],[20,10]]}, "legend": {"title": null, "legendX": 62, "legendY": 169}}
  }}
 ], "spacing": 96, "bounds": "flush",
 "resolve": {"scale": {"color": "independent", "strokeDash": "independent", "x": "independent", "y": "independent"}, "legend": {"color": "independent", "strokeDash": "independent"}}}
]
}
